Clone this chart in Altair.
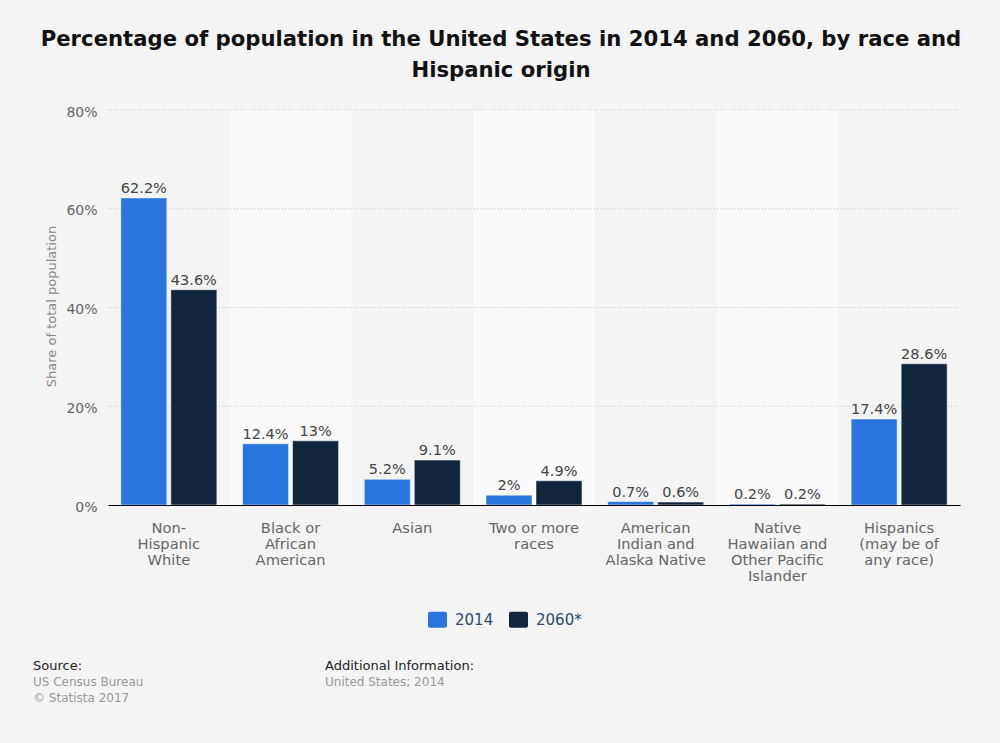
import altair as alt
import pandas as pd

categories = [
    "Non-|Hispanic|White",
    "Black or|African|American",
    "Asian",
    "Two or more|races",
    "American|Indian and|Alaska Native",
    "Native|Hawaiian and|Other Pacific|Islander",
    "Hispanics|(may be of|any race)",
]
years = ["2014", "2060*"]
values_2014 = [62.2, 12.4, 5.2, 2, 0.7, 0.2, 17.4]
values_2060 = [43.6, 13, 9.1, 4.9, 0.6, 0.2, 28.6]
colors = ["#2876dd", "#11263d"]
grid_values = [20, 40, 60, 80]

rows = []
for c, a, b in zip(categories, values_2014, values_2060):
    rows.append({"category": c, "year": years[0], "value": a})
    rows.append({"category": c, "year": years[1], "value": b})
df = pd.DataFrame(rows)
bands = pd.DataFrame({"category": categories[1::2]})
grid = pd.DataFrame({"v": grid_values})

W, H = 852, 395
FONT = "DejaVu Sans"

xscale = alt.Scale(domain=categories, paddingInner=0, paddingOuter=0)
yscale = alt.Scale(domain=[0, 80])

xaxis = alt.Axis(
    title=None, labelAngle=0, labelExpr="split(datum.label, '|')",
    labelFontSize=14.7, labelColor="#666666", labelLineHeight=16,
    labelPadding=15, ticks=False, domainColor="#000000", domainWidth=1,
    labelFont=FONT, labelBaseline="top", labelLimit=200, grid=False,
)
yaxis = alt.Axis(
    title="Share of total population", values=[0, 20, 40, 60, 80],
    labelExpr="datum.value + '%'", labelFontSize=14, labelColor="#666666",
    labelPadding=11, labelOffset=2, ticks=False, domain=False, grid=False,
    titleFontSize=13, titleColor="#888888", titleFontWeight="normal",
    titleX=-57, titleY=196, titleAlign="center", titleBaseline="middle",
    labelFont=FONT, titleFont=FONT,
)

band_layer = alt.Chart(bands).mark_rect(color="#fafafa").encode(
    x=alt.X("category:N", scale=xscale, sort=categories, axis=xaxis),
    y=alt.value(0),
    y2=alt.value(H),
)

grid_layer = alt.Chart(grid).mark_rule(color="#c4c4c4", strokeDash=[1, 2], strokeWidth=1).encode(
    y=alt.Y("v:Q", scale=yscale, axis=yaxis),
    x=alt.value(0),
    x2=alt.value(W),
)

offset_scale = alt.Scale(domain=years, paddingInner=0.08, paddingOuter=0.257)

bars = alt.Chart(df).mark_bar(stroke="#ffffff", strokeWidth=1, strokeOpacity=0.5).encode(
    x=alt.X("category:N", scale=xscale, sort=categories),
    xOffset=alt.XOffset("year:N", scale=offset_scale),
    y=alt.Y("value:Q", scale=yscale),
    color=alt.Color(
        "year:N",
        scale=alt.Scale(domain=years, range=colors),
        legend=alt.Legend(
            title=None, orient="none", legendX=320, legendY=500, direction="horizontal",
            labelFontSize=15, labelColor="#2b4a6d", labelFont=FONT,
            symbolType="M-0.8,-0.84H0.8A0.2,0.2 0 0 1 1,-0.64V0.64A0.2,0.2 0 0 1 0.8,0.84H-0.8A0.2,0.2 0 0 1 -1,0.64V-0.64A0.2,0.2 0 0 1 -0.8,-0.84Z",
            symbolSize=361, symbolStrokeWidth=0, labelOffset=8, columnPadding=15,
        ),
    ),
)

labels = alt.Chart(df).transform_calculate(
    label="datum.value + '%'"
).mark_text(baseline="bottom", dy=-2, fontSize=14.5, color="#444444", font=FONT).encode(
    x=alt.X("category:N", scale=xscale, sort=categories),
    xOffset=alt.XOffset("year:N", scale=offset_scale),
    y=alt.Y("value:Q", scale=yscale),
    text="label:N",
)

def txt(s, x, y, size, color, weight="normal", align="left"):
    return alt.Chart(pd.DataFrame({"t": [s]})).mark_text(
        align=align, baseline="alphabetic", fontSize=size, color=color,
        fontWeight=weight, font=FONT,
    ).encode(x=alt.value(x - 108), y=alt.value(y - 110), text="t:N")

title1 = txt("Percentage of population in the United States in 2014 and 2060, by race and", 501, 46, 21.2, "#111111", "bold", "center")
title2 = txt("Hispanic origin", 501, 77, 21.2, "#111111", "bold", "center")
src1 = txt("Source:", 33, 670, 13, "#222222")
src2 = txt("US Census Bureau", 33, 686, 12, "#999999")
src3 = txt("© Statista 2017", 33, 702, 12, "#999999")
add1 = txt("Additional Information:", 325, 670, 13, "#222222")
add2 = txt("United States; 2014", 325, 686, 12, "#999999")

chart = alt.layer(
    band_layer, grid_layer, bars, labels,
    title1, title2, src1, src2, src3, add1, add2,
).resolve_scale(x="shared").properties(
    width=W, height=H,
    padding={"left": 108, "top": 110, "right": 40, "bottom": 238},
    autosize=alt.AutoSizeParams(type="none"),
    background="#f4f4f4",
).configure(font=FONT).configure_view(strokeWidth=0, stroke="transparent")

chart.save("out.html", embed_options={"renderer": "svg", "actions": False})
